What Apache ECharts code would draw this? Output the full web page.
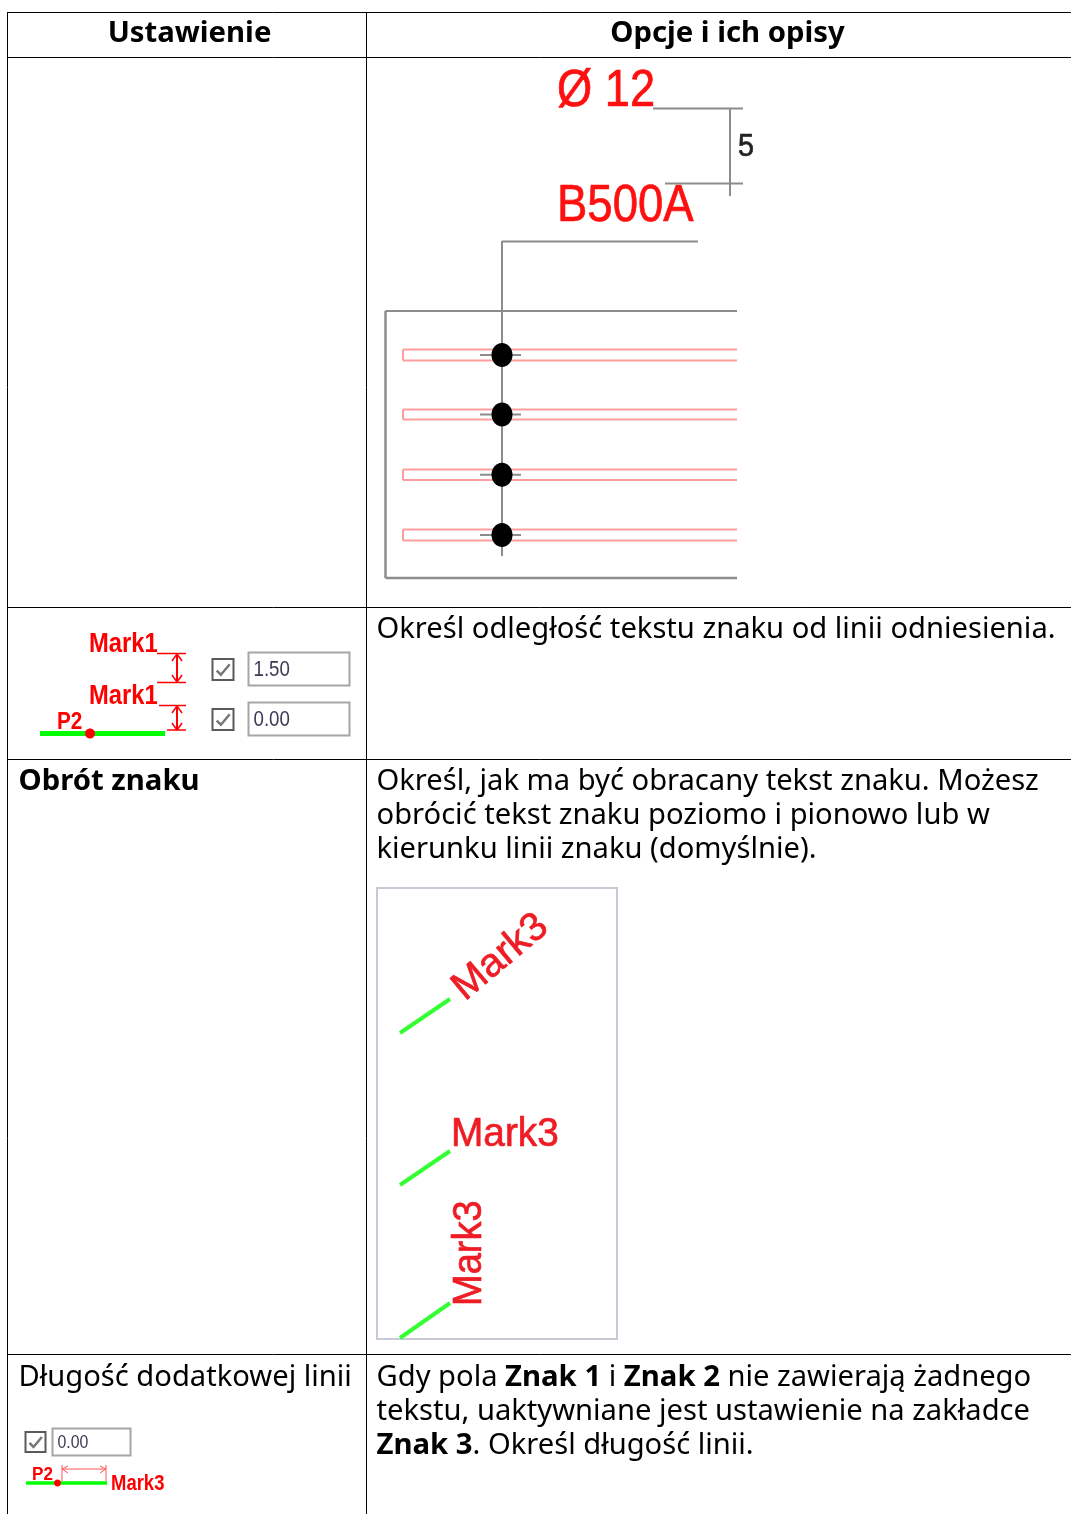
<!DOCTYPE html>
<html>
<head>
<meta charset="utf-8">
<title>Obrót znaku</title>
<script src="https://cdn.jsdelivr.net/npm/echarts@6/dist/echarts.min.js"></script>
<style>
html,body{margin:0;padding:0;background:#fff}
#main{width:1071px;height:1514px}
</style>
</head>
<body>
<div id="main"></div>
<script>
// teksty tabeli
var headers = ['Ustawienie', 'Opcje i ich opisy'];
var distanceText = ['Określ odległość tekstu znaku od linii odniesienia.'];
var rotationTitle = 'Obrót znaku';
var rotationText = [
    'Określ, jak ma być obracany tekst znaku. Możesz',
    'obrócić tekst znaku poziomo i pionowo lub w',
    'kierunku linii znaku (domyślnie).'
];
var lengthTitle = 'Długość dodatkowej linii';
var lengthText = [
    'Gdy pola {b|Znak 1} i {b|Znak 2} nie zawierają żadnego',
    'tekstu, uaktywniane jest ustawienie na zakładce',
    '{b|Znak 3}. Określ długość linii.'
];
var sampleMarks = ['Ø 12', 'B500A', '5'];
var distanceMark = 'Mark1';
var pointMark = 'P2';
var rotatedMark = 'Mark3';
var inputValues = ['1.50', '0.00', '0.00'];

var FONT = '"Noto Sans", sans-serif';
var CAD = '"Liberation Sans", Arial, sans-serif';
var BODY_SIZE = 29.15;
var BOLD_SIZE = 29.3;
var items = [];

function line(x1, y1, x2, y2, color, w) {
    items.push({
        type: 'line',
        shape: { x1: x1, y1: y1, x2: x2, y2: y2 },
        style: { stroke: color, lineWidth: w || 1 }
    });
}
function box(x, y, w, h, stroke, lw) {
    items.push({
        type: 'rect',
        shape: { x: x, y: y, width: w, height: h },
        style: { fill: '#fff', stroke: stroke, lineWidth: lw }
    });
}
function label(str, x, y, opt) {
    opt = opt || {};
    items.push({
        type: 'text',
        x: x,
        y: y,
        scaleX: opt.sx || 1,
        rotation: opt.rot || 0,
        style: {
            text: str,
            font: (opt.weight || 'normal') + ' ' + (opt.size || BODY_SIZE) + 'px ' + (opt.family || FONT),
            fill: opt.color || '#000',
            stroke: opt.stroke,
            lineWidth: opt.stroke ? 0.7 : 0,
            align: opt.align || 'left',
            verticalAlign: 'middle',
            rich: opt.rich
        }
    });
}
function paragraph(lines, x, y) {
    lines.forEach(function (str, i) {
        label(str, x, y + i * 34, {
            rich: { b: { fontFamily: FONT, fontSize: BOLD_SIZE, fontWeight: 'bold', fill: '#000' } }
        });
    });
}
function dot(cx, cy, rx, ry, color) {
    items.push({
        type: 'ellipse',
        shape: { cx: cx, cy: cy, rx: rx, ry: ry },
        style: { fill: color }
    });
}
// strzalka wymiarowa pionowa
function vArrow(x, y1, y2, color) {
    line(x, y1, x, y2, color, 2);
    line(x - 5, y1 + 7, x, y1, color, 1.5);
    line(x + 5, y1 + 7, x, y1, color, 1.5);
    line(x - 5, y2 - 7, x, y2, color, 1.5);
    line(x + 5, y2 - 7, x, y2, color, 1.5);
}
function checkbox(x, y, s) {
    box(x, y, s, s, '#5a5a5a', 2);
    items.push({
        type: 'polyline',
        shape: { points: [[x + s * 0.2, y + s * 0.55], [x + s * 0.4, y + s * 0.75], [x + s * 0.82, y + s * 0.25]] },
        style: { stroke: '#777', lineWidth: 2.5, fill: 'none' }
    });
}
function input(x, y, w, h, value, size, sx) {
    box(x, y, w, h, '#a6a6a6', 2);
    label(value, x + 5, y + h / 2 + 1, { family: CAD, size: size, sx: sx, color: '#3a3a55' });
}

// siatka tabeli
line(7.5, 12.5, 1071, 12.5, '#000');
line(7.5, 57.5, 1071, 57.5, '#000');
line(7.5, 607.5, 1071, 607.5, '#000');
line(7.5, 759.5, 1071, 759.5, '#000');
line(7.5, 1354.5, 1071, 1354.5, '#000');
line(7.5, 12, 7.5, 1514, '#000');
line(366.5, 12, 366.5, 1514, '#000');

label(headers[0], 189.5, 34, { weight: 'bold', size: BOLD_SIZE, align: 'center' });
label(headers[1], 727.5, 34, { weight: 'bold', size: BOLD_SIZE, align: 'center' });
paragraph(distanceText, 376.5, 629.5);
label(rotationTitle, 18.5, 782, { weight: 'bold', size: BOLD_SIZE });
paragraph(rotationText, 376.5, 782);
label(lengthTitle, 18.5, 1377.5);
paragraph(lengthText, 376.5, 1377.5);

// rysunek: odleglosc tekstu
var GREY = '#8c8c8c';
var PINK = '#ff9d9d';
label(sampleMarks[0], 557, 92, { family: CAD, size: 52, sx: 0.87, color: '#ff1010', stroke: '#ff1010' });
label(sampleMarks[1], 557, 207, { family: CAD, size: 52, sx: 0.875, color: '#ff1010', stroke: '#ff1010' });
label(sampleMarks[2], 738, 147, { family: CAD, size: 32, sx: 0.9, color: '#222', stroke: '#222' });
line(653, 108.5, 743, 108.5, GREY, 2);
line(665, 183.5, 743, 183.5, GREY, 2);
line(730, 108, 730, 196, GREY, 2);
line(502, 241.5, 698, 241.5, GREY, 2);
line(502, 241, 502, 556, GREY, 2);
line(385.5, 311, 737, 311, GREY, 2);
line(385.5, 311, 385.5, 578, GREY, 2.5);
line(385.5, 578, 737, 578, GREY, 2.5);
[[349.5, 360.5], [409.5, 419.5], [469.5, 480], [529.5, 540.5]].forEach(function (b) {
    line(403, b[0], 737, b[0], PINK, 2);
    line(403, b[1], 737, b[1], PINK, 2);
    line(403, b[0], 403, b[1], PINK, 2);
    var mid = (b[0] + b[1]) / 2;
    line(480, mid, 521, mid, GREY, 2);
    dot(502, mid, 10.5, 12, '#000');
});

// rysunek: Mark1 i pola
var RED = '#ff0000';
label(distanceMark, 89, 645, { family: CAD, size: 27, weight: 'bold', sx: 0.88, color: RED });
label(distanceMark, 89, 697, { family: CAD, size: 27, weight: 'bold', sx: 0.88, color: RED });
label(pointMark, 57, 723, { family: CAD, size: 23, weight: 'bold', sx: 0.9, color: RED });
line(157, 653.5, 186, 653.5, RED, 1.5);
line(157, 682.5, 186, 682.5, RED, 1.5);
line(159, 705.5, 186, 705.5, RED, 1.5);
line(167, 730, 186, 730, RED, 1.5);
vArrow(177, 654, 682, RED);
vArrow(177, 706, 730, RED);
line(40, 733.5, 165, 733.5, '#00ff00', 5);
dot(90, 733.5, 5, 5, RED);
checkbox(212.5, 659, 21);
checkbox(212.5, 709, 21);
input(248.5, 652.5, 101, 33, inputValues[0], 22, 0.85);
input(248.5, 702.5, 101, 33, inputValues[1], 22, 0.85);

// rysunek: obrot
var RED2 = '#ee1c25';
var GREEN2 = '#33ff33';
box(377, 888, 240, 451, '#c9c9d6', 2);
line(400, 1033, 450, 999, GREEN2, 4);
line(400, 1185, 450, 1151, GREEN2, 4);
line(400, 1338, 450, 1303, GREEN2, 4);
label(rotatedMark, 458, 993, { family: CAD, size: 40, rot: 40 * Math.PI / 180, color: RED2, stroke: RED2 });
label(rotatedMark, 451, 1135, { family: CAD, size: 40, sx: 0.97, color: RED2, stroke: RED2 });
label(rotatedMark, 470, 1306, { family: CAD, size: 40, sx: 0.95, rot: Math.PI / 2, color: RED2, stroke: RED2 });

// rysunek: dlugosc linii
checkbox(25.5, 1432, 20);
input(52.5, 1428.5, 78, 27, inputValues[2], 18, 0.88);
label(pointMark, 32, 1475, { family: CAD, size: 18, weight: 'bold', sx: 0.95, color: RED });
line(26, 1483, 107, 1483, '#00ff00', 3.5);
dot(57.5, 1483, 3.5, 3.5, RED);
line(62, 1465, 62, 1481, '#ff5555', 1);
line(106, 1465, 106, 1481, '#ff5555', 1);
line(62, 1469, 106, 1469, '#ff5555', 1);
line(62, 1469, 68, 1466, '#ff5555', 1);
line(62, 1469, 68, 1473, '#ff5555', 1);
line(106, 1469, 100, 1466, '#ff5555', 1);
line(106, 1469, 100, 1473, '#ff5555', 1);
label(rotatedMark, 111, 1484, { family: CAD, size: 22, weight: 'bold', sx: 0.84, color: RED });

var myChart = echarts.init(document.getElementById('main'));
myChart.setOption({
    animation: false,
    backgroundColor: '#fff',
    graphic: { elements: items }
});
</script>
</body>
</html>
